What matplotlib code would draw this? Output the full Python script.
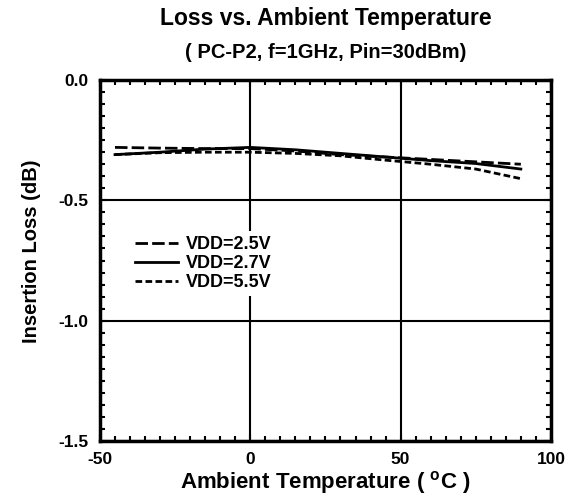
import numpy as np
import matplotlib.pyplot as plt
from matplotlib.ticker import MultipleLocator

plt.rcParams['font.family'] = ['Liberation Sans', 'DejaVu Sans']
plt.rcParams['font.weight'] = 'bold'
plt.rcParams['axes.unicode_minus'] = False

# data
temp = [-45, -30, -15, 0, 15, 30, 45, 60, 75, 90]
loss_25 = [-0.28, -0.283, -0.285, -0.285, -0.295, -0.31, -0.32, -0.33, -0.34, -0.35]
loss_27 = [-0.31, -0.30, -0.287, -0.28, -0.29, -0.305, -0.32, -0.335, -0.347, -0.37]
loss_55 = [-0.31, -0.302, -0.30, -0.30, -0.305, -0.315, -0.333, -0.35, -0.37, -0.41]
labels = ["VDD=2.5V", "VDD=2.7V", "VDD=5.5V"]

fig = plt.figure(figsize=(5.69, 5.0), dpi=100)
ax = fig.add_axes([0.1757, 0.118, 0.7925, 0.722])

ax.plot(temp, loss_25, color='black', lw=2, dashes=(4.5, 1.5), label=labels[0])
ax.plot(temp, loss_27, color='black', lw=2, label=labels[1])
ax.plot(temp, loss_55, color='black', lw=2, dashes=(2.4, 1.2), label=labels[2])

ax.set_xlim(-50, 100)
ax.set_ylim(-1.5, 0.0)
ax.xaxis.set_major_locator(MultipleLocator(50))
ax.xaxis.set_minor_locator(MultipleLocator(5))
ax.yaxis.set_major_locator(MultipleLocator(0.5))
ax.yaxis.set_minor_locator(MultipleLocator(0.05))
ax.yaxis.set_major_formatter(plt.FuncFormatter(lambda v, p: f"{v:.1f}"))
ax.tick_params(which='both', direction='in', top=True, right=True, width=1.5, labelsize=12.5)
ax.tick_params(which='major', length=5, pad=8)
ax.tick_params(which='minor', length=3.6)
for s in ax.spines.values():
    s.set_linewidth(2.5)
ax.grid(which='major', color='black', lw=1.5)

ax.set_xlabel("Ambient Temperature ( $\\mathregular{^{o}}$C )", fontsize=16, fontweight='bold', labelpad=1)
ax.set_ylabel("Insertion Loss (dB)", fontsize=14.5, fontweight='bold')
ax.yaxis.set_label_coords(-0.13, 0.526)

fig.text(0.573, 0.962, "Loss vs. Ambient Temperature", ha='center', va='center', fontsize=16.5, fontweight='bold')
fig.text(0.573, 0.894, "( PC-P2, f=1GHz, Pin=30dBm)", ha='center', va='center', fontsize=14.5, fontweight='bold')

# legend sits on a white box that hides the grid line behind it
leg = ax.legend(loc='upper left', bbox_to_anchor=(0.066, 0.582), frameon=True, fancybox=False,
                facecolor='white', edgecolor='none', framealpha=1, fontsize=13,
                handlelength=2.4, handletextpad=0.4, labelspacing=0.1, borderaxespad=0, borderpad=0.3)

plt.savefig("out.png", dpi=100)
